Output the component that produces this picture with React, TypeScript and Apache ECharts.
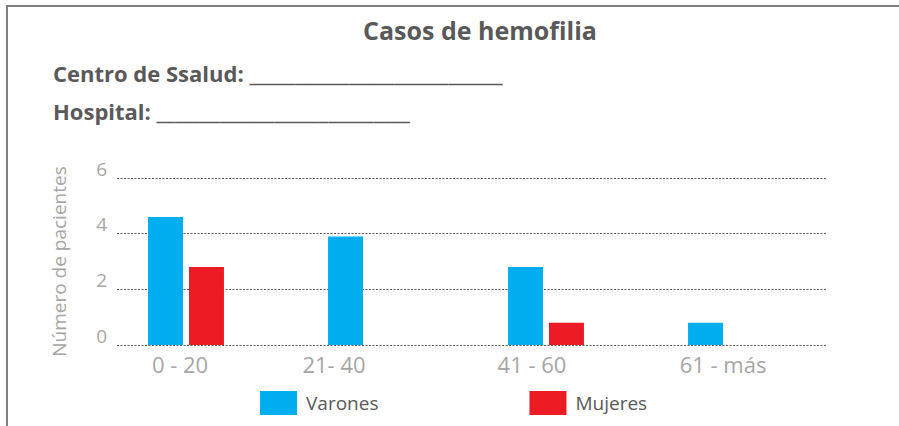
import React, { useEffect, useRef } from "react";
import * as echarts from "echarts";

const categories = ["0 - 20", "21- 40", "41 - 60", "61 - más"];
const varones = [4.6, 3.9, 2.8, 0.8];
const mujeres = [2.8, 0, 0.8, 0];
const yTicks = { min: 0, max: 6, interval: 2 };
const titleText = "Casos de hemofilia";
const line1 = "Centro de Ssalud: ____________________________";
const line2 = "Hospital: ____________________________";
const yName = "Número de pacientes";

// label shift (style only): pixels to move each category label left
const labelShift = [6, 32, 14, 3];

export default function App() {
  const ref = useRef<HTMLDivElement>(null);
  useEffect(() => {
    if (!ref.current) return;
    const chart = echarts.init(ref.current, null, { renderer: "svg" });
    const font = "'Open Sans', 'Segoe UI', sans-serif";
    const rich: any = {};
    labelShift.forEach((d, i) => {
      rich["c" + i] = {
        fontSize: 22,
        color: "#a6a6a6",
        fontFamily: font,
        padding: [0, 2 * d, 0, 0],
      };
    });
    chart.setOption({
      animation: false,
      backgroundColor: "#ffffff",
      textStyle: { fontFamily: font },
      title: [
        {
          text: titleText,
          left: 480,
          textAlign: "center",
          top: 17,
          padding: 0,
          textStyle: { fontSize: 25, fontWeight: "bold", color: "#595959", fontFamily: font },
        },
        {
          text: line1,
          left: 53,
          top: 62,
          padding: 0,
          textStyle: { fontSize: 22, fontWeight: "bold", color: "#595959", fontFamily: font },
        },
        {
          text: line2,
          left: 53,
          top: 100,
          padding: 0,
          textStyle: { fontSize: 22, fontWeight: "bold", color: "#595959", fontFamily: font },
        },
      ],
      graphic: [
        { type: "line", shape: { x1: 6, y1: 6, x2: 899, y2: 6 }, style: { stroke: "#7f7f7f", lineWidth: 2 } },
        { type: "line", shape: { x1: 7, y1: 5, x2: 7, y2: 426 }, style: { stroke: "#7f7f7f", lineWidth: 2 } },
      ],
      legend: {
        data: ["Varones", "Mujeres"],
        left: 255,
        top: 386,
        itemWidth: 37,
        itemHeight: 24,
        itemGap: 151,
        icon: "rect",
        textStyle: { fontSize: 19, color: "#595959", fontFamily: font, padding: [0, 0, 0, 4] },
      },
      grid: [
        { left: 117, top: 178, width: 710, height: 167 },
        { left: 96, top: 178, width: 720, height: 167 },
      ],
      xAxis: [
        { type: "value", gridIndex: 0, show: false, min: 0, max: 1 },
        {
          type: "category",
          gridIndex: 1,
          data: categories,
          axisLine: { show: false },
          axisTick: { show: false },
          axisLabel: {
            margin: 8,
            fontSize: 22,
            color: "#a6a6a6",
            formatter: (v: string, i: number) => `{c${i}|${v}}`,
            rich,
          },
        },
      ],
      yAxis: [
        {
          type: "value",
          gridIndex: 0,
          min: yTicks.min,
          max: yTicks.max,
          interval: yTicks.interval,
          name: yName,
          nameLocation: "middle",
          nameRotate: 90,
          nameGap: 49,
          nameTextStyle: { fontSize: 19, color: "#a6a6a6", fontFamily: font },
          axisLine: { show: false },
          axisTick: { show: false },
          axisLabel: {
            margin: 10,
            fontSize: 19,
            color: "#a6a6a6",
            verticalAlign: "bottom",
          },
          splitLine: { show: true, lineStyle: { color: "#595959", type: [2, 1.5], width: 1 } },
        },
        {
          type: "value",
          gridIndex: 1,
          min: yTicks.min,
          max: yTicks.max,
          interval: yTicks.interval,
          show: false,
          splitLine: { show: false },
        },
      ],
      series: [
        {
          name: "Varones",
          type: "bar",
          xAxisIndex: 1,
          yAxisIndex: 1,
          data: varones,
          barWidth: 35,
          barGap: "17%",
          itemStyle: { color: "#00aeef" },
        },
        {
          name: "Mujeres",
          type: "bar",
          xAxisIndex: 1,
          yAxisIndex: 1,
          data: mujeres,
          barWidth: 35,
          barGap: "17%",
          itemStyle: { color: "#ed1c24" },
        },
      ],
    });
    return () => chart.dispose();
  }, []);
  return (
    <div
      ref={ref}
      style={{ position: "absolute", left: 0, top: 0, width: 899, height: 426 }}
    />
  );
}
